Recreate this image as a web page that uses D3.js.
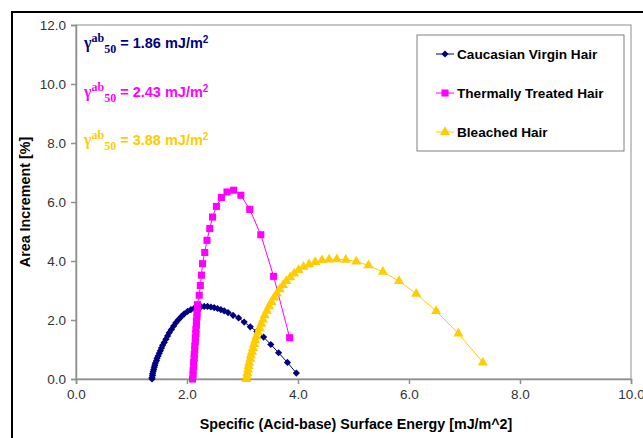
<!DOCTYPE html>
<html>
<head>
<meta charset="utf-8">
<script src="https://cdn.jsdelivr.net/npm/d3@7"></script>
<style>
  body { margin: 0; background: #fff; }
  svg { display: block; }
  text { font-family: "Liberation Sans", Arial, sans-serif; }
</style>
</head>
<body>
<div id="chart"></div>
<script>
/*******************************/
/*            Data             */
/*******************************/

var seriesNames = ["Caucasian Virgin Hair", "Thermally Treated Hair", "Bleached Hair"];
var seriesColors = ["#000080", "#FF00FF", "#FFCC00"];
var gammaLabels = ["1.86", "2.43", "3.88"];

var xTicks = [0, 2, 4, 6, 8, 10];
var yTicks = [0, 2, 4, 6, 8, 10, 12];

// Caucasian Virgin Hair [energy, area increment]
var virgin = [
  [1.37,0.00],[1.37,0.05],[1.38,0.12],[1.38,0.18],[1.39,0.25],[1.40,0.32],[1.41,0.40],
  [1.42,0.47],[1.43,0.54],[1.45,0.62],[1.46,0.70],[1.48,0.78],[1.50,0.87],[1.52,0.96],
  [1.54,1.05],[1.56,1.14],[1.59,1.24],[1.62,1.35],[1.65,1.46],[1.68,1.57],[1.72,1.68],
  [1.76,1.80],[1.80,1.91],[1.85,2.02],[1.90,2.12],[1.95,2.21],[2.01,2.29],[2.07,2.35],
  [2.13,2.40],[2.19,2.43],[2.25,2.45],[2.31,2.46],[2.37,2.46],[2.43,2.44],[2.49,2.42],
  [2.55,2.39],[2.61,2.35],[2.67,2.31],[2.74,2.25],[2.83,2.16],[2.93,2.07],[3.03,1.93],
  [3.14,1.77],[3.26,1.61],[3.38,1.42],[3.51,1.17],[3.65,0.89],[3.81,0.56],[3.97,0.20]
];

// Thermally Treated Hair
var thermal = [
  [2.10,0.00],[2.11,0.14],[2.11,0.28],[2.12,0.42],[2.12,0.56],[2.13,0.70],[2.13,0.84],
  [2.14,0.98],[2.14,1.12],[2.15,1.26],[2.15,1.40],[2.16,1.54],[2.16,1.68],[2.17,1.82],
  [2.17,1.96],[2.18,2.10],[2.18,2.24],[2.19,2.38],[2.19,2.52],[2.22,2.84],[2.24,3.17],
  [2.26,3.52],[2.28,3.91],[2.32,4.29],[2.36,4.70],[2.41,5.10],[2.46,5.49],[2.53,5.85],
  [2.62,6.15],[2.72,6.34],[2.84,6.40],[2.97,6.23],[3.13,5.75],[3.33,4.89],[3.56,3.48],
  [3.85,1.40]
];

// Bleached Hair
var bleached = [
  [3.07,0.00],[3.08,0.10],[3.09,0.20],[3.10,0.32],[3.11,0.44],[3.12,0.55],[3.14,0.68],
  [3.15,0.80],[3.17,0.92],[3.19,1.05],[3.21,1.18],[3.23,1.31],[3.25,1.44],[3.28,1.58],
  [3.31,1.72],[3.34,1.87],[3.37,2.01],[3.40,2.16],[3.44,2.31],[3.48,2.46],[3.52,2.61],
  [3.57,2.76],[3.62,2.90],[3.67,3.04],[3.73,3.18],[3.79,3.32],[3.86,3.45],[3.93,3.57],
  [4.01,3.69],[4.10,3.80],[4.20,3.89],[4.31,3.96],[4.43,4.02],[4.56,4.05],[4.70,4.06],
  [4.86,4.04],[5.05,3.98],[5.27,3.85],[5.53,3.63],[5.82,3.32],[6.13,2.89],[6.49,2.30],
  [6.89,1.54],[7.33,0.56]
];

var seriesData = [virgin, thermal, bleached];

/*******************************/
/*        Chart set up         */
/*******************************/

var width = 643, height = 438;
var plot = { left: 76, top: 25, right: 631, bottom: 379 };

var svg = d3.select("#chart").append("svg")
  .attr("width", width)
  .attr("height", height);

// outer chart frame (runs off the page right and bottom)
svg.append("rect")
  .attr("x", 12).attr("y", 12)
  .attr("width", 700).attr("height", 500)
  .attr("fill", "none")
  .attr("stroke", "#000")
  .attr("stroke-width", 2);

var x = d3.scaleLinear().domain([0, 10]).range([plot.left, plot.right]);
var y = d3.scaleLinear().domain([0, 12]).range([plot.bottom, plot.top]);

// plot area border
svg.append("rect")
  .attr("x", plot.left).attr("y", plot.top)
  .attr("width", plot.right - plot.left)
  .attr("height", plot.bottom - plot.top)
  .attr("fill", "none")
  .attr("stroke", "#a0a0a0")
  .attr("stroke-width", 1.2);

var xAxis = svg.append("g")
  .attr("transform", "translate(0," + plot.bottom + ")")
  .call(d3.axisBottom(x).tickValues(xTicks).tickFormat(d3.format(".1f")).tickSize(5).tickPadding(5));

var yAxis = svg.append("g")
  .attr("transform", "translate(" + plot.left + ",0)")
  .call(d3.axisLeft(y).tickValues(yTicks).tickFormat(d3.format(".1f")).tickSize(5).tickPadding(5));

[xAxis, yAxis].forEach(function (ax) {
  ax.selectAll("path, line").attr("stroke", "#909090").attr("stroke-width", 1.5);
  ax.selectAll("text")
    .attr("fill", "#333")
    .style("font-size", "13.5px")
    .style("font-family", "'Liberation Sans', Arial, sans-serif");
});

// axis titles
svg.append("text")
  .attr("x", 356)
  .attr("y", 429)
  .attr("text-anchor", "middle")
  .style("font-size", "14.3px")
  .style("font-weight", "bold")
  .text("Specific (Acid-base) Surface Energy [mJ/m^2]");

svg.append("text")
  .attr("transform", "translate(30," + (plot.top + plot.bottom) / 2 + ") rotate(-90)")
  .attr("text-anchor", "middle")
  .style("font-size", "14.3px")
  .style("font-weight", "bold")
  .text("Area Increment [%]");

/*******************************/
/*           Series            */
/*******************************/

var symbols = [d3.symbolSquare, d3.symbolSquare, d3.symbolTriangle];
var symbolSizes = [26, 50, 44];
var symbolRotate = [45, 0, 0];

var line = d3.line()
  .x(function (d) { return x(d[0]); })
  .y(function (d) { return y(d[1]); });

function markerPath(i) {
  return d3.symbol().type(symbols[i]).size(symbolSizes[i])();
}

seriesData.forEach(function (data, i) {
  var g = svg.append("g").attr("class", "series");
  g.append("path")
    .datum(data)
    .attr("d", line)
    .attr("fill", "none")
    .attr("stroke", seriesColors[i])
    .attr("stroke-width", 1);
  g.selectAll(".pt")
    .data(data)
    .enter()
    .append("path")
    .attr("class", "pt")
    .attr("d", markerPath(i))
    .attr("transform", function (d) {
      return "translate(" + x(d[0]) + "," + y(d[1]) + ") rotate(" + symbolRotate[i] + ")";
    })
    .attr("fill", seriesColors[i]);
});

/*******************************/
/*          Legend             */
/*******************************/

var legend = svg.append("g");
legend.append("rect")
  .attr("x", 417).attr("y", 35)
  .attr("width", 207).attr("height", 116)
  .attr("fill", "#fff")
  .attr("stroke", "#808080")
  .attr("stroke-width", 1);

seriesNames.forEach(function (name, i) {
  var ly = 54 + i * 39;
  legend.append("line")
    .attr("x1", 436).attr("x2", 454)
    .attr("y1", ly).attr("y2", ly)
    .attr("stroke", seriesColors[i])
    .attr("stroke-width", 1);
  legend.append("path")
    .attr("d", markerPath(i))
    .attr("transform", "translate(445," + ly + ") rotate(" + symbolRotate[i] + ")")
    .attr("fill", seriesColors[i]);
  legend.append("text")
    .attr("x", 457)
    .attr("y", ly + 5)
    .style("font-size", "13.6px")
    .style("font-weight", "bold")
    .text(name);
});

/*******************************/
/*    gamma ab 50 annotations  */
/*******************************/

gammaLabels.forEach(function (val, i) {
  var t = svg.append("text")
    .attr("x", 84)
    .attr("y", 48 + i * 48.5)
    .attr("fill", seriesColors[i])
    .style("font-size", "14.5px")
    .style("font-weight", "bold");
  var serif = "'Liberation Serif', 'Times New Roman', serif";
  t.append("tspan").style("font-family", serif).style("font-size", "16px").text("\u03b3");
  t.append("tspan").style("font-family", serif).style("font-size", "12px").attr("dy", -6).text("ab");
  t.append("tspan").style("font-family", serif).style("font-size", "12px").attr("dy", 11).text("50");
  t.append("tspan").attr("dy", -5).text(" = " + val + " mJ/m");
  t.append("tspan").style("font-size", "10px").attr("dy", -5).text("2");
});
</script>
</body>
</html>
